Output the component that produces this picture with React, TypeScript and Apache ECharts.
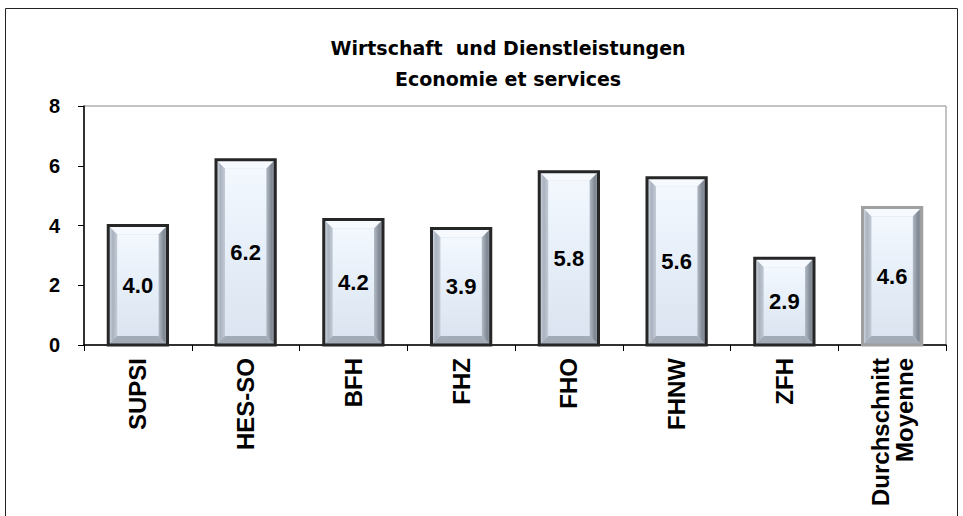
import React, { useEffect, useRef } from "react";
import * as echarts from "echarts";

const categories = ["SUPSI", "HES-SO", "BFH", "FHZ", "FHO", "FHNW", "ZFH", "Durchschnitt\nMoyenne"];
const values = [4.0, 6.2, 4.2, 3.9, 5.8, 5.6, 2.9, 4.6];
const titleLines = ["Wirtschaft  und Dienstleistungen", "Economie et services"];

const FONT = "'Liberation Sans', Arial, sans-serif";
const WIDE = "'DejaVu Sans', 'Liberation Sans', sans-serif";

export default function App() {
  const ref = useRef<HTMLDivElement>(null);
  useEffect(() => {
    if (!ref.current) return;
    const chart = echarts.init(ref.current, null, { renderer: "svg" });
    const lastIdx = values.length - 1;
    const renderItem = (params: any, api: any) => {
      const i = api.value(0);
      const v = api.value(1);
      const top = api.coord([i, v]);
      const base = api.coord([i, 0]);
      const w = api.size([1, 0])[0] * 0.55;
      const x0 = top[0] - w / 2;
      const x1 = top[0] + w / 2;
      const y0 = top[1];
      const y1 = base[1];
      const b = 9;
      const isAvg = i === lastIdx;
      return {
        type: "group",
        children: [
          {
            type: "rect",
            shape: { x: x0, y: y0, width: w, height: y1 - y0 },
            style: { fill: "#c9d1dc" },
          },
          {
            type: "polygon",
            shape: { points: [[x0, y0], [x1, y0], [x1 - b, y0 + b], [x0 + b, y0 + b]] },
            style: { fill: "#f6f9fd" },
          },
          {
            type: "polygon",
            shape: { points: [[x0, y0], [x0 + b, y0 + b], [x0 + b, y1 - b], [x0, y1]] },
            style: {
              fill: new echarts.graphic.LinearGradient(0, 0, 1, 0, [
                { offset: 0, color: "#d8e0ea" },
                { offset: 0.5, color: "#a9b2be" },
                { offset: 1, color: "#c3cbd6" },
              ]),
            },
          },
          {
            type: "polygon",
            shape: { points: [[x1, y0], [x1, y1], [x1 - b, y1 - b], [x1 - b, y0 + b]] },
            style: {
              fill: new echarts.graphic.LinearGradient(0, 0, 1, 0, [
                { offset: 0, color: "#b3bbc6" },
                { offset: 0.6, color: "#7f8793" },
                { offset: 1, color: "#9aa2ad" },
              ]),
            },
          },
          {
            type: "polygon",
            shape: { points: [[x0, y1], [x1, y1], [x1 - b, y1 - b], [x0 + b, y1 - b]] },
            style: { fill: "#a3abb7" },
          },
          {
            type: "rect",
            shape: { x: x0 + b, y: y0 + b, width: Math.max(0, w - 2 * b), height: Math.max(0, y1 - y0 - 2 * b) },
            style: {
              fill: new echarts.graphic.LinearGradient(0, 0, 0, 1, [
                { offset: 0, color: "#f3f8fe" },
                { offset: 0.5, color: "#e6eef8" },
                { offset: 1, color: "#dbe4f0" },
              ]),
            },
          },
          {
            type: "rect",
            shape: { x: x0, y: y0, width: w, height: y1 - y0 },
            style: { fill: "none", stroke: isAvg ? "#a0a0a0" : "#262626", lineWidth: 3 },
          },
        ],
      };
    };
    chart.setOption({
      animation: false,
      backgroundColor: "#ffffff",
      title: {
        text: titleLines.join("\n"),
        left: 503,
        textAlign: "center",
        top: 27,
        textStyle: { fontFamily: WIDE, fontWeight: "bold", fontSize: 19, color: "#000", lineHeight: 31 },
      },
      graphic: [
        {
          type: "rect",
          shape: { x: 5.5, y: 8.5, width: 952, height: 520 },
          style: { fill: "none", stroke: "#222", lineWidth: 1 },
          silent: true,
        },
      ],
      grid: {
        left: 84,
        right: 17,
        top: 106,
        bottom: 171,
        show: true,
        borderColor: "#888",
        borderWidth: 1,
      },
      xAxis: {
        type: "category",
        data: categories,
        axisLine: { lineStyle: { color: "#000", width: 1.5 } },
        axisTick: { show: true, length: 6, lineStyle: { color: "#000" } },
        axisLabel: {
          rotate: 90,
          margin: 13,
          interval: 0,
          fontFamily: FONT,
          fontWeight: "bold",
          fontSize: 24,
          color: "#000",
          lineHeight: 24,
          align: "right",
        },
      },
      yAxis: {
        type: "value",
        min: 0,
        max: 8,
        interval: 2,
        splitLine: { show: false },
        axisLine: { show: true, lineStyle: { color: "#000", width: 1.5 } },
        axisTick: { show: true, length: 6, lineStyle: { color: "#000" } },
        axisLabel: {
          fontFamily: FONT,
          fontWeight: "bold",
          fontSize: 20,
          color: "#000",
          margin: 24,
        },
      },
      series: [
        {
          type: "custom",
          z: 2,
          renderItem,
          data: values.map((v, i) => [i, v]),
          encode: { x: 0, y: 1 },
        },
        {
          type: "bar",
          z: 3,
          data: values,
          barWidth: "55%",
          itemStyle: { color: "rgba(0,0,0,0)" },
          label: {
            show: true,
            position: "inside",
            formatter: (p: any) => Number(p.value).toFixed(1),
            fontFamily: FONT,
            fontWeight: "bold",
            fontSize: 22,
            color: "#000",
          },
        },
      ],
    });
    return () => chart.dispose();
  }, []);
  return (
    <div
      ref={ref}
      style={{ position: "fixed", left: 0, top: 0, width: 963, height: 516 }}
    />
  );
}
